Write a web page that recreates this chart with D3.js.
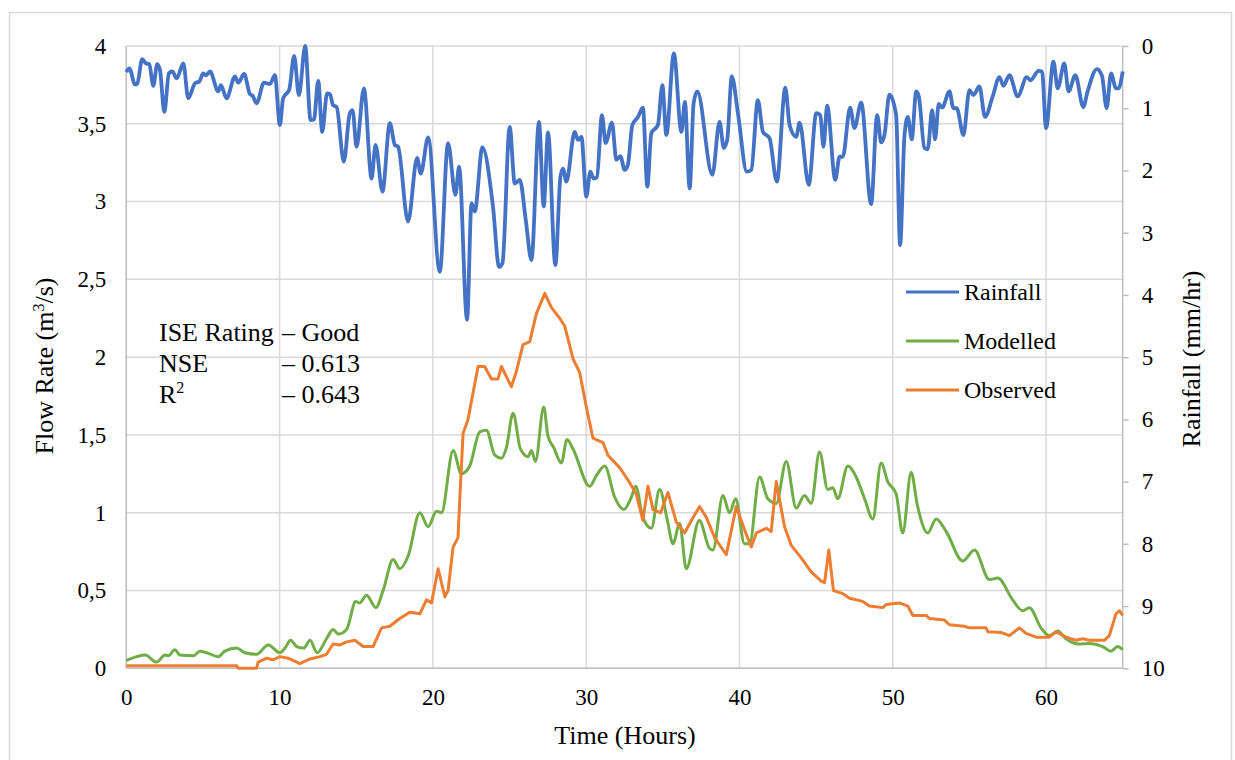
<!DOCTYPE html>
<html><head><meta charset="utf-8">
<script src="https://cdn.jsdelivr.net/npm/d3@7"></script>
<style>
html,body{margin:0;padding:0;background:#fff;}
svg{display:block;font-family:"Liberation Serif","Times New Roman",serif;}
</style></head>
<body><svg id="c" width="1235" height="760"></svg>
<script>
// ---------------- DATA ----------------
const xTicks = [0, 10, 20, 30, 40, 50, 60];
const flowTicks = [0, 0.5, 1, 1.5, 2, 2.5, 3, 3.5, 4];
const rainTicks = [0, 1, 2, 3, 4, 5, 6, 7, 8, 9, 10];
const seriesNames = ["Rainfall", "Modelled", "Observed"];
const seriesColors = ["#4472C4", "#70AD47", "#ED7D31"];
const statsLabels = ["ISE Rating", "NSE", "R"];
const statsValues = ["– Good", "– 0.613", "– 0.643"];

// Rainfall (mm/hr) vs time (hours) – plotted on reversed right axis
const rainfall = [[0,0.42],[0.2,0.36],[0.57,0.62],[0.72,0.6],[1.04,0.21],[1.28,0.28],[1.5,0.29],[1.76,0.64],[2.02,0.29],[2.2,0.39],[2.48,1.06],[2.78,0.44],[3.0,0.41],[3.29,0.52],[3.72,0.28],[4.04,0.84],[4.48,0.6],[4.76,0.57],[5.02,0.44],[5.2,0.47],[5.46,0.41],[6.0,0.73],[6.17,0.63],[6.54,0.84],[7.09,0.49],[7.3,0.59],[7.69,0.45],[8.06,0.77],[8.24,0.8],[8.5,0.92],[8.98,0.59],[9.37,0.61],[9.69,0.47],[10.02,1.27],[10.23,0.84],[10.63,0.7],[10.95,0.16],[11.26,0.79],[11.67,0.0],[12.02,1.19],[12.24,1.18],[12.52,0.56],[12.78,1.38],[13.1,0.76],[13.28,0.77],[13.49,0.95],[13.72,0.98],[14.19,1.86],[14.58,1.08],[14.76,1.03],[15.02,1.62],[15.5,0.68],[16.0,2.13],[16.26,1.59],[16.71,2.34],[17.19,1.24],[17.52,1.59],[17.73,1.62],[18.38,2.82],[18.97,1.8],[19.21,2.05],[19.69,1.47],[20.45,3.63],[20.99,1.56],[21.47,2.39],[21.71,1.94],[22.23,4.4],[22.52,2.53],[22.73,2.66],[23.23,1.63],[23.92,2.58],[24.32,3.55],[24.54,3.49],[25.01,1.3],[25.34,2.21],[25.67,2.15],[26.06,2.8],[26.43,3.44],[26.92,1.22],[27.23,2.58],[27.51,1.39],[27.99,3.52],[28.32,2.1],[28.49,1.97],[28.71,2.18],[29.25,1.38],[29.47,1.51],[29.69,1.46],[30.01,2.42],[30.27,2.02],[30.49,2.13],[30.7,2.11],[31.03,1.11],[31.27,1.56],[31.68,1.23],[31.97,1.83],[32.23,1.77],[32.51,1.99],[32.72,1.91],[33.01,1.27],[33.38,1.14],[33.7,0.99],[33.99,2.26],[34.25,1.4],[34.68,1.27],[34.97,0.63],[35.23,1.43],[35.72,0.12],[36.21,1.38],[36.44,0.9],[36.75,2.29],[37.01,0.92],[37.25,0.73],[38.23,2.07],[38.7,1.22],[38.98,1.64],[39.2,1.51],[39.5,0.49],[39.9,1.08],[40.48,2.02],[40.77,1.99],[41.2,0.87],[41.53,1.38],[41.96,1.48],[42.44,2.18],[42.99,0.67],[43.27,1.27],[43.7,1.46],[43.92,1.23],[44.52,2.23],[45.01,1.08],[45.27,1.11],[45.48,1.62],[45.72,0.96],[46.25,2.15],[46.53,1.78],[46.74,1.78],[47.22,0.99],[47.5,1.32],[47.94,0.91],[48.59,2.54],[48.98,1.11],[49.24,1.55],[49.46,1.43],[49.78,0.78],[50.22,1.11],[50.48,3.2],[50.76,1.46],[50.98,1.14],[51.24,1.5],[51.53,0.73],[51.7,0.81],[52.07,1.64],[52.28,1.66],[52.57,1.03],[52.76,1.5],[53.0,0.93],[53.22,0.99],[53.7,0.73],[53.96,1.0],[54.17,1.0],[54.61,1.43],[55.0,0.71],[55.26,0.79],[55.65,0.65],[56.02,1.14],[56.52,0.81],[56.96,0.5],[57.22,0.64],[57.61,0.47],[58.15,0.81],[58.74,0.5],[58.98,0.55],[59.52,0.4],[59.74,0.41],[60.0,1.32],[60.48,0.25],[60.76,0.68],[61.19,0.28],[61.47,0.73],[61.91,0.47],[62.43,0.98],[62.71,0.73],[63.32,0.37],[63.65,0.48],[63.95,1.0],[64.24,0.44],[64.56,0.68],[64.73,0.68],[65.0,0.41]];

// Modelled flow (m3/s)
const modelled = [[0,0.05],[0.68,0.075],[1.22,0.085],[1.98,0.04],[2.52,0.085],[2.74,0.08],[3.17,0.12],[3.5,0.085],[4.37,0.08],[4.8,0.11],[5.24,0.1],[6.0,0.075],[6.43,0.11],[7.2,0.13],[7.74,0.1],[8.5,0.09],[9.26,0.15],[10.02,0.1],[10.35,0.13],[10.72,0.18],[11.11,0.14],[11.58,0.13],[11.98,0.18],[12.45,0.1],[13.06,0.19],[13.49,0.25],[13.82,0.22],[14.37,0.25],[14.97,0.43],[15.23,0.42],[15.67,0.47],[16.28,0.39],[16.75,0.5],[17.41,0.7],[17.84,0.64],[18.38,0.72],[19.15,1.0],[19.69,0.91],[20.23,1.01],[20.56,1.0],[21.32,1.4],[21.86,1.25],[22.4,1.3],[23.06,1.52],[23.49,1.53],[24.04,1.37],[24.47,1.35],[24.8,1.42],[25.23,1.64],[25.71,1.41],[26.21,1.36],[26.43,1.4],[26.69,1.33],[27.23,1.68],[27.51,1.49],[27.88,1.42],[28.38,1.32],[28.75,1.47],[29.14,1.41],[30.23,1.17],[30.67,1.24],[31.21,1.3],[31.86,1.1],[32.45,1.02],[32.95,1.1],[33.23,1.17],[33.7,0.97],[34.25,0.9],[34.79,1.15],[35.3,0.95],[35.66,0.8],[36.1,0.93],[36.53,0.64],[37.38,0.95],[38.05,0.77],[38.27,0.76],[38.92,1.11],[39.35,1.0],[39.75,1.09],[40.33,0.8],[40.66,0.8],[41.31,1.23],[41.85,1.09],[42.4,1.06],[43.05,1.33],[43.7,1.03],[44.24,1.11],[44.68,1.06],[45.22,1.39],[45.76,1.15],[46.09,1.16],[46.41,1.09],[47.07,1.3],[47.61,1.23],[48.16,1.09],[48.7,0.96],[49.24,1.32],[49.67,1.2],[50.22,1.12],[50.65,0.87],[51.2,1.26],[51.6,1.05],[52.28,0.87],[52.83,0.96],[53.48,0.88],[54.56,0.69],[55.33,0.76],[56.3,0.57],[56.85,0.58],[57.82,0.44],[58.47,0.37],[58.91,0.39],[59.67,0.26],[60.21,0.21],[60.76,0.24],[61.3,0.19],[62.17,0.156],[62.82,0.16],[63.69,0.14],[64.23,0.11],[64.67,0.14],[65.0,0.12]];

// Observed flow (m3/s)
const observed = [[0,0.017],[7.2,0.017],[7.3,0.0],[8.5,0.0],[8.6,0.04],[9.15,0.065],[9.58,0.055],[10.02,0.075],[10.56,0.065],[11.32,0.03],[11.98,0.06],[12.63,0.075],[13.06,0.09],[13.49,0.156],[13.93,0.15],[14.37,0.17],[14.91,0.18],[15.45,0.14],[16.1,0.14],[16.65,0.26],[17.19,0.27],[17.84,0.32],[18.49,0.36],[19.15,0.35],[19.58,0.44],[19.91,0.42],[20.34,0.64],[20.78,0.46],[20.99,0.5],[21.32,0.78],[21.64,0.84],[21.75,1.08],[21.97,1.51],[22.29,1.6],[22.95,1.94],[23.38,1.94],[23.82,1.86],[24.25,1.86],[24.47,1.94],[25.12,1.81],[25.45,1.91],[25.88,2.08],[26.32,2.1],[26.75,2.28],[27.3,2.41],[27.73,2.32],[28.27,2.25],[28.6,2.2],[29.14,1.99],[29.58,1.9],[30.01,1.68],[30.44,1.48],[31.1,1.45],[31.42,1.37],[32.18,1.29],[32.73,1.21],[33.27,1.12],[33.7,0.95],[34.03,1.17],[34.36,1.02],[34.86,1.0],[35.33,1.13],[35.88,0.94],[36.42,0.87],[36.86,0.95],[37.4,1.04],[37.84,0.97],[38.38,0.84],[39.14,0.73],[39.79,1.04],[40.33,0.89],[40.77,0.78],[41.1,0.87],[41.75,0.9],[42.07,0.88],[42.4,1.2],[42.94,0.91],[43.38,0.79],[44.03,0.71],[44.68,0.62],[45.33,0.56],[45.55,0.55],[45.83,0.76],[46.13,0.5],[46.74,0.48],[47.18,0.45],[48.04,0.43],[48.48,0.4],[49.35,0.39],[49.57,0.41],[50.44,0.42],[50.98,0.4],[51.3,0.34],[52.18,0.34],[52.39,0.32],[53.37,0.31],[53.7,0.28],[54.67,0.27],[55.0,0.26],[56.09,0.26],[56.2,0.235],[57.07,0.23],[57.61,0.21],[58.26,0.26],[58.7,0.225],[59.35,0.2],[60.21,0.2],[60.65,0.235],[61.3,0.2],[61.95,0.18],[62.39,0.19],[62.82,0.18],[63.8,0.18],[64.13,0.21],[64.56,0.35],[64.78,0.37],[65.0,0.34]];

// ---------------- CHART ----------------
const svg = d3.select("#c");
const L = 126.3, R = 1122.7, T = 46, B = 668.3;
const x = d3.scaleLinear().domain([0, 65]).range([L, R]);
const yL = d3.scaleLinear().domain([0, 4]).range([B, T]);
const yR = d3.scaleLinear().domain([0, 10]).range([T, B]);
const grid = "#d9d9d9", axisCol = "#bfbfbf";

// outer chart frame
svg.append("rect").attr("x", 9.5).attr("y", 12.5).attr("width", 1222).attr("height", 780)
  .attr("fill", "none").attr("stroke", grid).attr("stroke-width", 1.5);

// gridlines
svg.append("g").selectAll("line").data(flowTicks).join("line")
  .attr("x1", L).attr("x2", R).attr("y1", d => yL(d)).attr("y2", d => yL(d))
  .attr("stroke", grid).attr("stroke-width", 1.5);
svg.append("g").selectAll("line").data(xTicks).join("line")
  .attr("x1", d => x(d)).attr("x2", d => x(d)).attr("y1", T).attr("y2", B)
  .attr("stroke", grid).attr("stroke-width", 1.5);

// axes
const fs = "23px";
const gL = svg.append("g").attr("transform", `translate(${L},0)`)
  .call(d3.axisLeft(yL).tickValues(flowTicks).tickSize(0).tickPadding(20)
    .tickFormat(d => String(d).replace(".", ",")));
const gB = svg.append("g").attr("transform", `translate(0,${B})`)
  .call(d3.axisBottom(x).tickValues(xTicks).tickSize(0).tickPadding(20).tickFormat(d3.format("d")));
const gR = svg.append("g").attr("transform", `translate(${R},0)`)
  .call(d3.axisRight(yR).tickValues(rainTicks).tickSize(6).tickPadding(13).tickFormat(d3.format("d")));
[gL, gB, gR].forEach(g => {
  g.attr("font-family", null);
  g.select(".domain").attr("stroke", axisCol).attr("stroke-width", 1.5);
  g.selectAll(".tick line").attr("stroke", axisCol).attr("stroke-width", 1.5);
  g.selectAll("text").attr("fill", "#000").style("font-size", fs)
    .style("font-family", '"Liberation Serif", serif');
});
gL.select(".domain").attr("d", `M0,${T}V${B}`);
gB.select(".domain").attr("d", `M${L},0H${R}`);
gR.select(".domain").attr("d", `M0,${T}V${B}`);

// series
const lineRain = d3.line().x(d => x(d[0])).y(d => yR(d[1])).curve(d3.curveMonotoneX);
const lineFlowSmooth = d3.line().x(d => x(d[0])).y(d => yL(d[1])).curve(d3.curveMonotoneX);
const lineFlow = d3.line().x(d => x(d[0])).y(d => yL(d[1]));
svg.append("path").attr("d", lineRain(rainfall)).attr("fill", "none")
  .attr("stroke", seriesColors[0]).attr("stroke-width", 3.8).attr("stroke-linejoin", "round");
svg.append("path").attr("d", lineFlowSmooth(modelled)).attr("fill", "none")
  .attr("stroke", seriesColors[1]).attr("stroke-width", 3).attr("stroke-linejoin", "round");
svg.append("path").attr("d", lineFlow(observed)).attr("fill", "none")
  .attr("stroke", seriesColors[2]).attr("stroke-width", 3).attr("stroke-linejoin", "round");

// axis titles
svg.append("text").attr("x", 625).attr("y", 744).attr("text-anchor", "middle")
  .style("font-size", "26px").text("Time (Hours)");
const lt = svg.append("text").attr("transform", "translate(53,366) rotate(-90)")
  .attr("text-anchor", "middle").style("font-size", "26px");
lt.append("tspan").text("Flow Rate (m");
lt.append("tspan").attr("dy", -9).style("font-size", "16px").text("3");
lt.append("tspan").attr("dy", 9).text("/s)");
svg.append("text").attr("transform", "translate(1200,359) rotate(-90)")
  .attr("text-anchor", "middle").style("font-size", "26px").text("Rainfall (mm/hr)");

// legend
const legY = [292, 341, 390];
const leg = svg.append("g").selectAll("g").data(seriesNames).join("g");
leg.append("line").attr("x1", 906).attr("x2", 959).attr("y1", (d, i) => legY[i]).attr("y2", (d, i) => legY[i])
  .attr("stroke", (d, i) => seriesColors[i]).attr("stroke-width", 3);
leg.append("text").attr("x", 964).attr("y", (d, i) => legY[i]).attr("dy", "0.33em")
  .style("font-size", "24px").text(d => d);

// stats annotation
const statY = [341, 372, 403];
const st = svg.append("g").style("font-size", "26px");
statsLabels.forEach((s, i) => {
  const t = st.append("text").attr("x", 159).attr("y", statY[i]);
  t.append("tspan").text(s);
  if (s === "R") t.append("tspan").attr("dy", -10).style("font-size", "16px").text("2");
  st.append("text").attr("x", 282).attr("y", statY[i]).text(statsValues[i]);
});
</script></body></html>
